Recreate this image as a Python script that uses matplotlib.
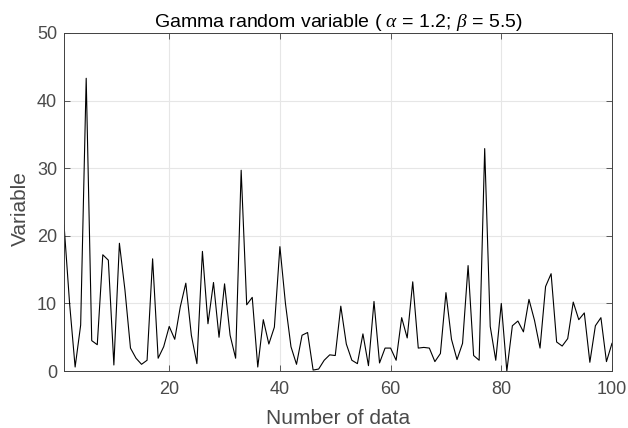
import matplotlib
matplotlib.use("Agg")
import matplotlib.pyplot as plt
import numpy as np

plt.rcParams['font.family'] = ['Liberation Sans', 'DejaVu Sans']
plt.rcParams['mathtext.fontset'] = 'custom'
plt.rcParams['mathtext.it'] = 'Liberation Serif:italic'
plt.rcParams['mathtext.rm'] = 'Liberation Serif'

# values (index 1..100)
values = [21.6, 10.0, 0.6, 6.8, 43.3, 4.5, 3.9, 17.2, 16.4, 0.9,
          18.9, 12.0, 3.4, 1.9, 1.0, 1.6, 16.6, 1.9, 3.6, 6.6,
          4.7, 9.5, 13.0, 5.3, 1.1, 17.7, 7.0, 13.1, 5.0, 12.9,
          5.3, 1.9, 29.7, 9.8, 10.9, 0.6, 7.6, 4.0, 6.5, 18.4,
          10.0, 3.6, 1.0, 5.3, 5.7, 0.15, 0.3, 1.6, 2.4, 2.3,
          9.6, 4.0, 1.6, 1.1, 5.5, 0.8, 10.3, 1.2, 3.4, 3.4,
          1.6, 7.9, 4.9, 13.2, 3.4, 3.5, 3.4, 1.4, 2.6, 11.6,
          4.7, 1.7, 4.1, 15.6, 2.3, 1.6, 32.9, 6.6, 1.6, 10.0,
          0.0, 6.7, 7.4, 5.8, 10.6, 7.5, 3.4, 12.5, 14.4, 4.3,
          3.7, 4.8, 10.2, 7.6, 8.6, 1.3, 6.7, 7.9, 1.4, 4.1]
index = np.arange(1, len(values) + 1)

xticks = [20, 40, 60, 80, 100]
yticks = [0, 10, 20, 30, 40, 50]

fig = plt.figure(figsize=(6.28, 4.28), dpi=100)
ax = fig.add_axes([0.102, 0.133, 0.8725, 0.79])
ax.plot(index, values, color='black', linewidth=0.8)

ax.set_xlim(1, 100)
ax.set_ylim(0, 50)
ax.set_xticks(xticks)
ax.set_yticks(yticks)
ax.grid(True, color='#e6e6e6', linewidth=0.8)
ax.set_axisbelow(True)
ax.tick_params(direction='in', top=True, right=True, length=4, width=0.6,
               colors='#404040', labelsize=13, labelcolor='#4a4a4a')
ax.tick_params(axis='x', pad=7)
ax.tick_params(axis='y', pad=5)
for s in ax.spines.values():
    s.set_color('#404040')
    s.set_linewidth(0.7)

ax.set_xlabel('Number of data', fontsize=15, color='#4a4a4a')
ax.set_ylabel('Variable', fontsize=15, color='#4a4a4a')
ax.xaxis.set_label_coords(0.5, -0.111)
ax.yaxis.set_label_coords(-0.062, 0.48)
ax.set_title(r'Gamma random variable ( $\alpha$ = 1.2; $\beta$ = 5.5)',
             fontsize=14, color='black', pad=4.3)

fig.savefig('out.png', dpi=100)
